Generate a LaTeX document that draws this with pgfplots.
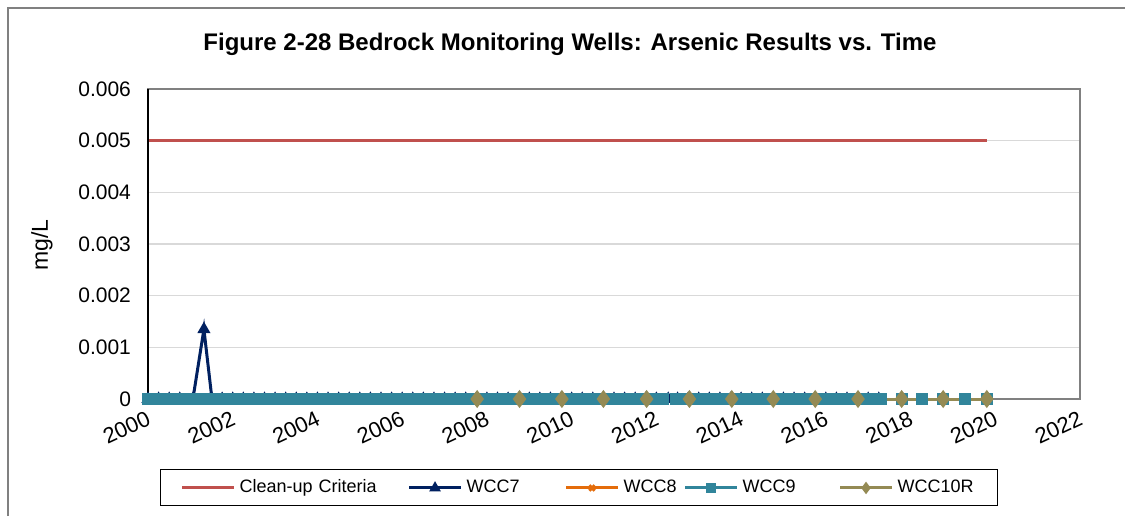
\documentclass[border=0pt]{standalone}
\usepackage{pgfplots}
\pgfplotsset{compat=1.18}
\usepackage{fontspec}
\setmainfont{Liberation Sans}
\definecolor{cleanred}{RGB}{192,80,77}
\definecolor{wccseven}{RGB}{0,32,96}
\definecolor{wcceight}{RGB}{228,108,10}
\definecolor{wccnine}{RGB}{49,133,155}
\definecolor{wccten}{RGB}{148,138,84}
\definecolor{gridgray}{RGB}{217,217,217}
\definecolor{framegray}{RGB}{128,128,128}
\begin{document}
\begin{tikzpicture}
\path[use as bounding box] (0,0) rectangle (562.5pt,258pt);
\draw[framegray, line width=0.8pt] (4pt,0pt) -- (4pt,254pt) -- (562.5pt,254pt);
\node[font=\fontsize{12}{14}\selectfont\bfseries] at (285pt,236pt) {Figure 2-28 Bedrock Monitoring Wells: Arsenic Results vs. Time};
\node[font=\fontsize{11.5}{13}\selectfont, rotate=90] at (21pt,135.5pt) {mg/L};
\begin{axis}[
  at={(74pt,58.5pt)}, anchor=south west,
  scale only axis, width=466pt, height=155pt,
  xmin=2000, xmax=2022, ymin=0, ymax=0.006,
  xtick={2000,2002,...,2022},
  ytick={0,0.001,0.002,0.003,0.004,0.005,0.006},
  scaled y ticks=false,
  yticklabel style={/pgf/number format/fixed, /pgf/number format/precision=3, font=\fontsize{10.5}{12}\selectfont, xshift=-5pt},
  xticklabel style={/pgf/number format/1000 sep={}, rotate=25, anchor=north east, font=\fontsize{11}{12}\selectfont, yshift=-1pt},
  /pgf/number format/assume math mode=true,
  major tick length=0pt,
  ymajorgrids, grid style={gridgray, line width=0.6pt},
  axis line style={framegray, line width=0.9pt},
  clip=false,
  legend columns=5,
  legend cell align=left,
  legend style={at={(0.4625,-0.287)}, anchor=center, draw=black, line width=0.5pt,
    font=\fontsize{9}{10}\selectfont, inner xsep=10pt, inner ysep=3pt,
    nodes={inner xsep=2pt},
    /tikz/every even column/.append style={column sep=0pt}},
  legend image code/.code={\draw[mark repeat=2,mark phase=2,mark size=1.9pt] plot coordinates {(0pt,0pt) (13pt,0pt) (26pt,0pt)};},
]
\addplot[cleanred, line width=1.5pt, mark=none] coordinates {(2000,0.005) (2019.8,0.005)};
\addlegendentry[text width=82pt, align=left]{Clean-up Criteria}
\addplot[wccseven, line width=1.5pt, mark=triangle*, mark size=2.3pt] coordinates {
(2000.00,0) (2000.25,0) (2000.50,0) (2000.75,0) (2001.06,0) (2001.32,0.00135) (2001.51,0) (2001.75,0)
(2002.00,0) (2002.25,0) (2002.50,0) (2002.75,0) (2003.00,0) (2003.25,0) (2003.50,0) (2003.75,0)
(2004.00,0) (2004.25,0) (2004.50,0) (2004.75,0) (2005.00,0) (2005.25,0) (2005.50,0) (2005.75,0)
(2006.00,0) (2006.25,0) (2006.50,0) (2006.75,0) (2007.00,0) (2007.25,0) (2007.50,0) (2007.75,0)
(2008.00,0) (2008.25,0) (2008.50,0) (2008.75,0) (2009.00,0) (2009.25,0) (2009.50,0) (2009.75,0)
(2010.00,0) (2010.25,0) (2010.50,0) (2010.75,0) (2011.00,0) (2011.25,0) (2011.50,0) (2011.75,0)
(2012.00,0) (2012.28,0) (2012.50,0) (2012.75,0) (2013.00,0) (2013.25,0) (2013.50,0) (2013.75,0)
(2014.00,0) (2014.25,0) (2014.50,0) (2014.75,0) (2015.00,0) (2015.25,0) (2015.50,0) (2015.75,0)
(2016.00,0) (2016.25,0) (2016.50,0) (2016.75,0) (2017.00,0) (2017.25,0)};
\addlegendentry[text width=47pt, align=left]{WCC7}
\addplot[wcceight, line width=1.5pt, mark=x, mark size=2.6pt] coordinates {
(2000.00,0) (2000.50,0) (2001.00,0) (2001.50,0) (2002.00,0) (2002.50,0) (2003.00,0) (2003.50,0)
(2004.00,0) (2004.50,0) (2005.00,0) (2005.50,0) (2006.00,0) (2006.50,0) (2007.00,0) (2007.50,0)
(2008.00,0) (2008.50,0) (2009.00,0) (2009.50,0) (2010.00,0) (2010.50,0) (2011.00,0) (2011.50,0)
(2012.00,0) (2012.50,0) (2013.00,0) (2013.50,0) (2014.00,0) (2014.50,0) (2015.00,0) (2015.50,0)
(2016.00,0) (2016.50,0) (2017.00,0)};
\addlegendentry[text width=28pt, align=left]{WCC8}
\addplot[wccnine, line width=1.5pt, mark=square*, mark size=2.2pt] coordinates {
(2000.00,0) (2000.17,0) (2000.33,0) (2000.50,0) (2000.67,0) (2000.83,0)
(2001.00,0) (2001.17,0) (2001.33,0) (2001.50,0) (2001.67,0) (2001.83,0)
(2002.00,0) (2002.17,0) (2002.33,0) (2002.50,0) (2002.67,0) (2002.83,0)
(2003.00,0) (2003.17,0) (2003.33,0) (2003.50,0) (2003.67,0) (2003.83,0)
(2004.00,0) (2004.17,0) (2004.33,0) (2004.50,0) (2004.67,0) (2004.83,0)
(2005.00,0) (2005.17,0) (2005.33,0) (2005.50,0) (2005.67,0) (2005.83,0)
(2006.00,0) (2006.17,0) (2006.33,0) (2006.50,0) (2006.67,0) (2006.83,0)
(2007.00,0) (2007.17,0) (2007.33,0) (2007.50,0) (2007.67,0) (2007.83,0)
(2008.00,0) (2008.17,0) (2008.33,0) (2008.50,0) (2008.67,0) (2008.83,0)
(2009.00,0) (2009.17,0) (2009.33,0) (2009.50,0) (2009.67,0) (2009.83,0)
(2010.00,0) (2010.17,0) (2010.33,0) (2010.50,0) (2010.67,0) (2010.83,0)
(2011.00,0) (2011.17,0) (2011.33,0) (2011.50,0) (2011.67,0) (2011.83,0)
(2012.00,0) (2012.17,0) (2012.45,0) (2012.60,0) (2012.75,0) (2012.90,0)
(2013.05,0) (2013.17,0) (2013.33,0) (2013.50,0) (2013.67,0) (2013.83,0)
(2014.00,0) (2014.17,0) (2014.33,0) (2014.50,0) (2014.67,0) (2014.83,0)
(2015.00,0) (2015.17,0) (2015.33,0) (2015.50,0) (2015.67,0) (2015.83,0)
(2016.00,0) (2016.17,0) (2016.33,0) (2016.50,0) (2016.67,0) (2016.83,0)
(2017.00,0) (2017.17,0) (2017.30,0)
(2017.79,0) (2018.27,0) (2018.77,0) (2019.29,0) (2019.80,0)};
\addlegendentry[text width=46pt, align=left]{WCC9}
\addplot[wccten, line width=1.5pt, mark=diamond*, mark size=3.3pt] coordinates {
(2007.77,0) (2008.77,0) (2009.77,0) (2010.75,0) (2011.77,0) (2012.78,0) (2013.78,0)
(2014.76,0) (2015.75,0) (2016.76,0) (2017.79,0) (2018.77,0) (2019.80,0)};
\addlegendentry{WCC10R}
\draw[black, line width=0.6pt] (rel axis cs:0,0) -- (rel axis cs:0,1);
\end{axis}
\end{tikzpicture}
\end{document}
